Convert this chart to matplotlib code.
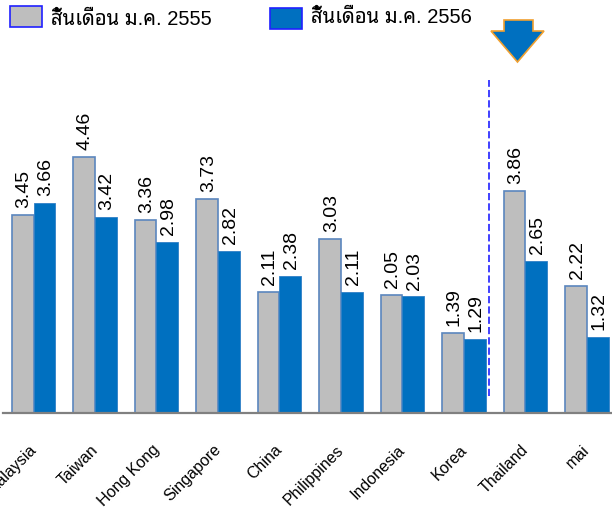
import matplotlib
matplotlib.use("Agg")
import matplotlib.pyplot as plt
from matplotlib.patches import Polygon, Rectangle
from matplotlib.transforms import ScaledTranslation
import numpy as np

markets = ["Malaysia", "Taiwan", "Hong Kong", "Singapore", "China",
           "Philippines", "Indonesia", "Korea", "Thailand", "mai"]
values_2555 = [3.45, 4.46, 3.36, 3.73, 2.11, 3.03, 2.05, 1.39, 3.86, 2.22]
values_2556 = [3.66, 3.42, 2.98, 2.82, 2.38, 2.11, 2.03, 1.29, 2.65, 1.32]
legend_labels = ["สิ้นเดือน ม.ค. 2555", "สิ้นเดือน ม.ค. 2556"]

W, H = 612, 513
GREY = "#BEBEBE"
BLUE = "#0070C0"

plt.rcParams["font.family"] = ["Liberation Sans", "Noto Sans Thai Looped", "DejaVu Sans"]

fig = plt.figure(figsize=(W / 100, H / 100), dpi=100)
ax = fig.add_axes([3 / W, (H - 413) / H, 609 / W, 333 / H])

x = np.arange(len(markets))
width = 0.355
ax.bar(x - width / 2, values_2555, width, color=GREY, edgecolor="#5B86BE", linewidth=1.2)
ax.bar(x + width / 2, values_2556, width, color=BLUE, edgecolor="#2F80C6", linewidth=0.6)

for i in range(len(markets)):
    ax.text(x[i] - width / 2 + 0.02, values_2555[i] + 0.12, "%.2f" % values_2555[i], rotation=90,
            ha="center", va="bottom", fontsize=14, clip_on=False)
    ax.text(x[i] + width / 2 + 0.02, values_2556[i] + 0.12, "%.2f" % values_2556[i], rotation=90,
            ha="center", va="bottom", fontsize=14, clip_on=False)

ax.set_xlim(-0.496, 9.407)
ax.set_ylim(0, 5.80)
ax.set_yticks([])
ax.set_xticks(x)
ax.set_xticklabels(markets, rotation=45, ha="right", rotation_mode="anchor", fontsize=11.5)
ax.tick_params(axis="x", length=0, pad=21)
shift = ScaledTranslation(-5 / 100, 0, fig.dpi_scale_trans)
for lab in ax.get_xticklabels():
    lab.set_transform(lab.get_transform() + shift)
for s in ["top", "left", "right"]:
    ax.spines[s].set_visible(False)
ax.spines["bottom"].set_color("#808080")
ax.spines["bottom"].set_linewidth(1.6)

# dashed divider between Korea and Thailand
ax.plot([7.407, 7.407], [0.3, 5.80], color="#4040FF", linestyle="--", linewidth=1.4, clip_on=False)


def px(a, b):
    return a / W, (H - b) / H


# legend boxes
for left, top, bottom, color, label, ty in [(10, 6, 27, GREY, legend_labels[0], 25),
                                            (270, 8, 29, BLUE, legend_labels[1], 23)]:
    fig.add_artist(Rectangle(px(left, bottom), 32 / W, (bottom - top) / H, facecolor=color,
                             edgecolor="#2020FF", linewidth=1.2, transform=fig.transFigure))
    fig.text(*px(left + 41, ty), label, fontsize=14.5, ha="left", va="baseline")

# down arrow
arrow = [(504, 20), (533, 20), (533, 31), (544, 31), (517.5, 62), (491, 31), (504, 31)]
fig.add_artist(Polygon([px(a, b) for a, b in arrow], closed=True, facecolor=BLUE,
                       edgecolor="#F0A030", linewidth=1.2, transform=fig.transFigure))

fig.savefig("out.png", dpi=100)
